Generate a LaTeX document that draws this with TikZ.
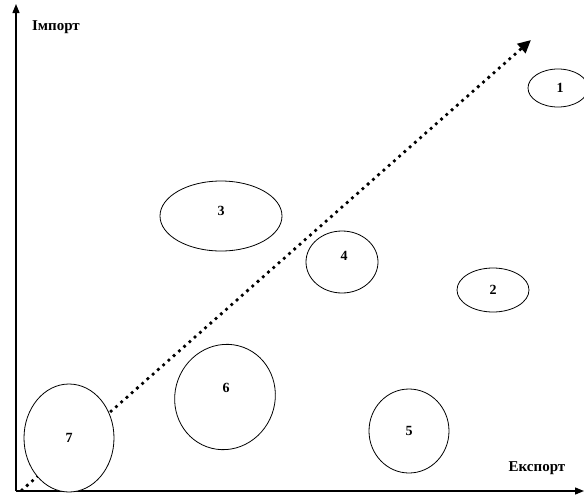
\documentclass[tikz,border=0pt]{standalone}
\usepackage{fontspec}
\setmainfont{Liberation Serif}
\usetikzlibrary{arrows.meta,calc}
\begin{document}
\begin{tikzpicture}[x=1pt,y=-1pt,
  axis/.style={line width=1.3pt,-{Triangle[length=9pt,width=7pt]}},
  trend/.style={line width=3.8pt,line cap=round,dash pattern=on 0pt off 7pt,-{Triangle[length=13pt,width=12pt]}},
  blob/.style={line width=0.8pt,fill=white},
  num/.style={font=\fontsize{14}{16}\selectfont\bfseries},
  lab/.style={font=\fontsize{15}{17}\selectfont\bfseries}]
\useasboundingbox (0,0) rectangle (584,496);
\coordinate (O) at (16,491);
\coordinate (Ytop) at (16,4);
\coordinate (Xend) at (584,491);
\draw[axis] (O) -- (Ytop);
\draw[axis] (O) -- (Xend);
\coordinate (ds) at (22,490);
\coordinate (de) at (531,40);
\draw[trend] (ds) -- (de);
\node[lab] (imp) at (56,27) {Імпорт};
\node[lab] (exp) at (537,468) {Експорт};
\draw[blob] (558,88) ellipse [x radius=30,y radius=19];
\node[num] (n1) at (560,88) {1};
\draw[blob] (493,290) ellipse [x radius=36,y radius=22];
\node[num] (n2) at (493,290) {2};
\draw[blob] (221,216) ellipse [x radius=61,y radius=35];
\node[num] (n3) at (221,211) {3};
\draw[blob] (342,262) ellipse [x radius=36,y radius=31];
\node[num] (n4) at (344,256) {4};
\draw[blob] (409,431) ellipse [x radius=40,y radius=42];
\node[num] (n5) at (409,431) {5};
\draw[blob,rotate around={-20:(225,397)}] (225,397) ellipse [x radius=50,y radius=53];
\node[num] (n6) at (226,388) {6};
\draw[blob] (69,438) ellipse [x radius=45,y radius=54];
\node[num] (n7) at (69,438) {7};
\end{tikzpicture}
\end{document}
